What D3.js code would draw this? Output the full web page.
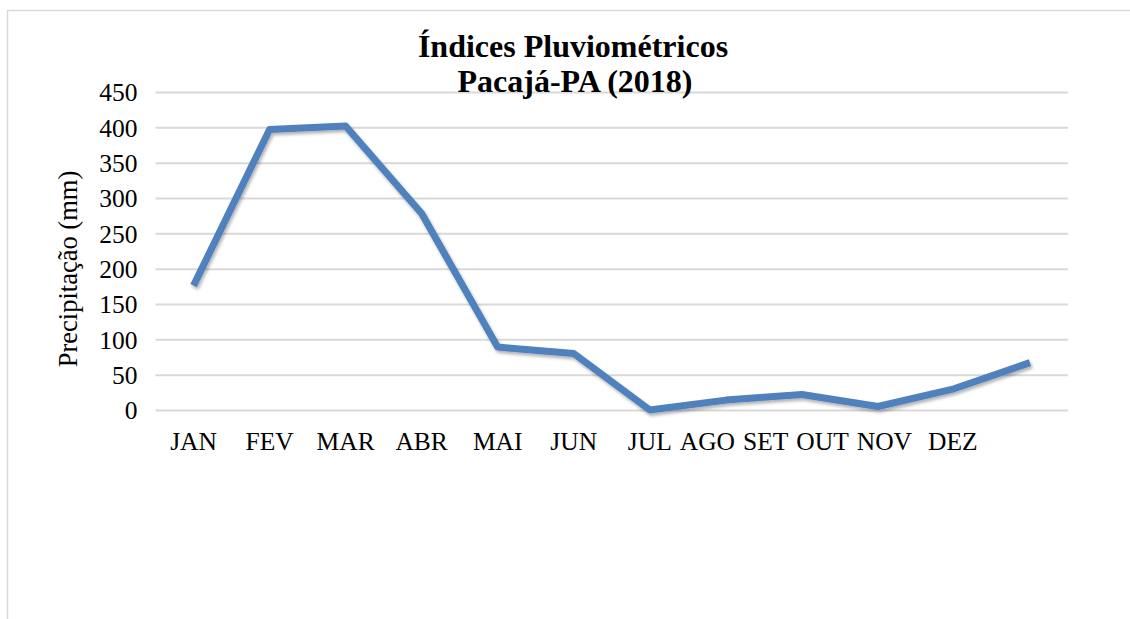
<!DOCTYPE html>
<html>
<head>
<meta charset="utf-8">
<script src="https://cdn.jsdelivr.net/npm/d3@7"></script>
<style>
  html, body { margin: 0; padding: 0; background: #ffffff; }
  svg { display: block; }
  text { font-family: "Liberation Serif", "Times New Roman", serif; fill: #000; }
</style>
</head>
<body>
<svg id="chart" width="1130" height="619"></svg>
<script>
const months = ["JAN","FEV","MAR","ABR","MAI","JUN","JUL","AGO","SET","OUT","NOV","DEZ"];
const rainfall = [176, 397, 402, 278, 89, 80, 0, 14, 22, 5, 30, 67];
const yTicks = [0, 50, 100, 150, 200, 250, 300, 350, 400, 450];
const titleLines = ["Índices Pluviométricos", "Pacajá-PA (2018)"];
const yTitle = "Precipitação (mm)";

const W = 1130, H = 619;
const margin = { left: 155.5, right: 1068, top: 92, bottom: 410 };

const svg = d3.select("#chart");

// outer chart frame (top + left edge visible)
svg.append("path")
  .attr("d", `M7.5,${H} V10.5 H${W}`)
  .attr("fill", "none").attr("stroke", "#d9d9d9").attr("stroke-width", 1.5);

const x = d3.scaleBand().domain(months).range([margin.left, margin.right]).padding(0);
const y = d3.scaleLinear().domain([0, 450]).range([margin.bottom, margin.top]);

// gridlines via axis
const grid = svg.append("g")
  .attr("transform", `translate(${margin.left},0)`)
  .call(d3.axisLeft(y).tickValues(yTicks).tickSize(-(margin.right - margin.left)).tickFormat(""));
grid.select(".domain").remove();
grid.selectAll(".tick line").attr("stroke", "#d9d9d9").attr("stroke-width", 2);

// y tick labels
const yAxis = svg.append("g")
  .attr("transform", `translate(${margin.left - 16},0)`)
  .call(d3.axisLeft(y).tickValues(yTicks).tickSize(0).tickPadding(2));
yAxis.select(".domain").remove();
yAxis.selectAll("text")
  .style("font-family", '"Liberation Serif", "Times New Roman", serif')
  .attr("font-size", 25.5).attr("fill", "#000").attr("dy", "0.34em");

// x labels: first ones centred on band, tail ones flowing
const labelG = svg.append("g").attr("font-size", 25.5);
let prevEnd = null;
months.forEach((m, i) => {
  const t = labelG.append("text").attr("y", 450).text(m);
  const w = t.node().getComputedTextLength();
  let xpos;
  if (i <= 6) {
    xpos = x(m) + x.bandwidth() / 2 - w / 2;
  } else {
    const gap = (i === 11) ? 16 : 8;
    xpos = prevEnd + gap;
  }
  t.attr("x", xpos);
  prevEnd = xpos + w;
});

// y title
svg.append("text")
  .attr("transform", `translate(77,${(margin.top + margin.bottom) / 2 + 18}) rotate(-90)`)
  .attr("text-anchor", "middle").attr("font-size", 26.5)
  .text(yTitle);

// title
svg.append("text").attr("x", 573).attr("y", 57).attr("text-anchor", "middle")
  .attr("font-size", 32).attr("font-weight", "bold").text(titleLines[0]);
svg.append("text").attr("x", 575).attr("y", 92).attr("text-anchor", "middle")
  .attr("font-size", 32).attr("font-weight", "bold").text(titleLines[1]);

// shadow filter
const defs = svg.append("defs");
const f = defs.append("filter").attr("id", "shadow").attr("x", "-5%").attr("y", "-5%").attr("width", "110%").attr("height", "120%");
f.append("feDropShadow").attr("dx", 1.5).attr("dy", 2.5).attr("stdDeviation", 1.8)
  .attr("flood-color", "#000").attr("flood-opacity", 0.3);

const line = d3.line()
  .x((d, i) => x(months[i]) + x.bandwidth() / 2)
  .y(d => y(d));

svg.append("path")
  .datum(rainfall)
  .attr("d", line)
  .attr("fill", "none")
  .attr("stroke", "#4f81bd")
  .attr("stroke-width", 7)
  .attr("stroke-linejoin", "round")
  .attr("filter", "url(#shadow)");
</script>
</body>
</html>
